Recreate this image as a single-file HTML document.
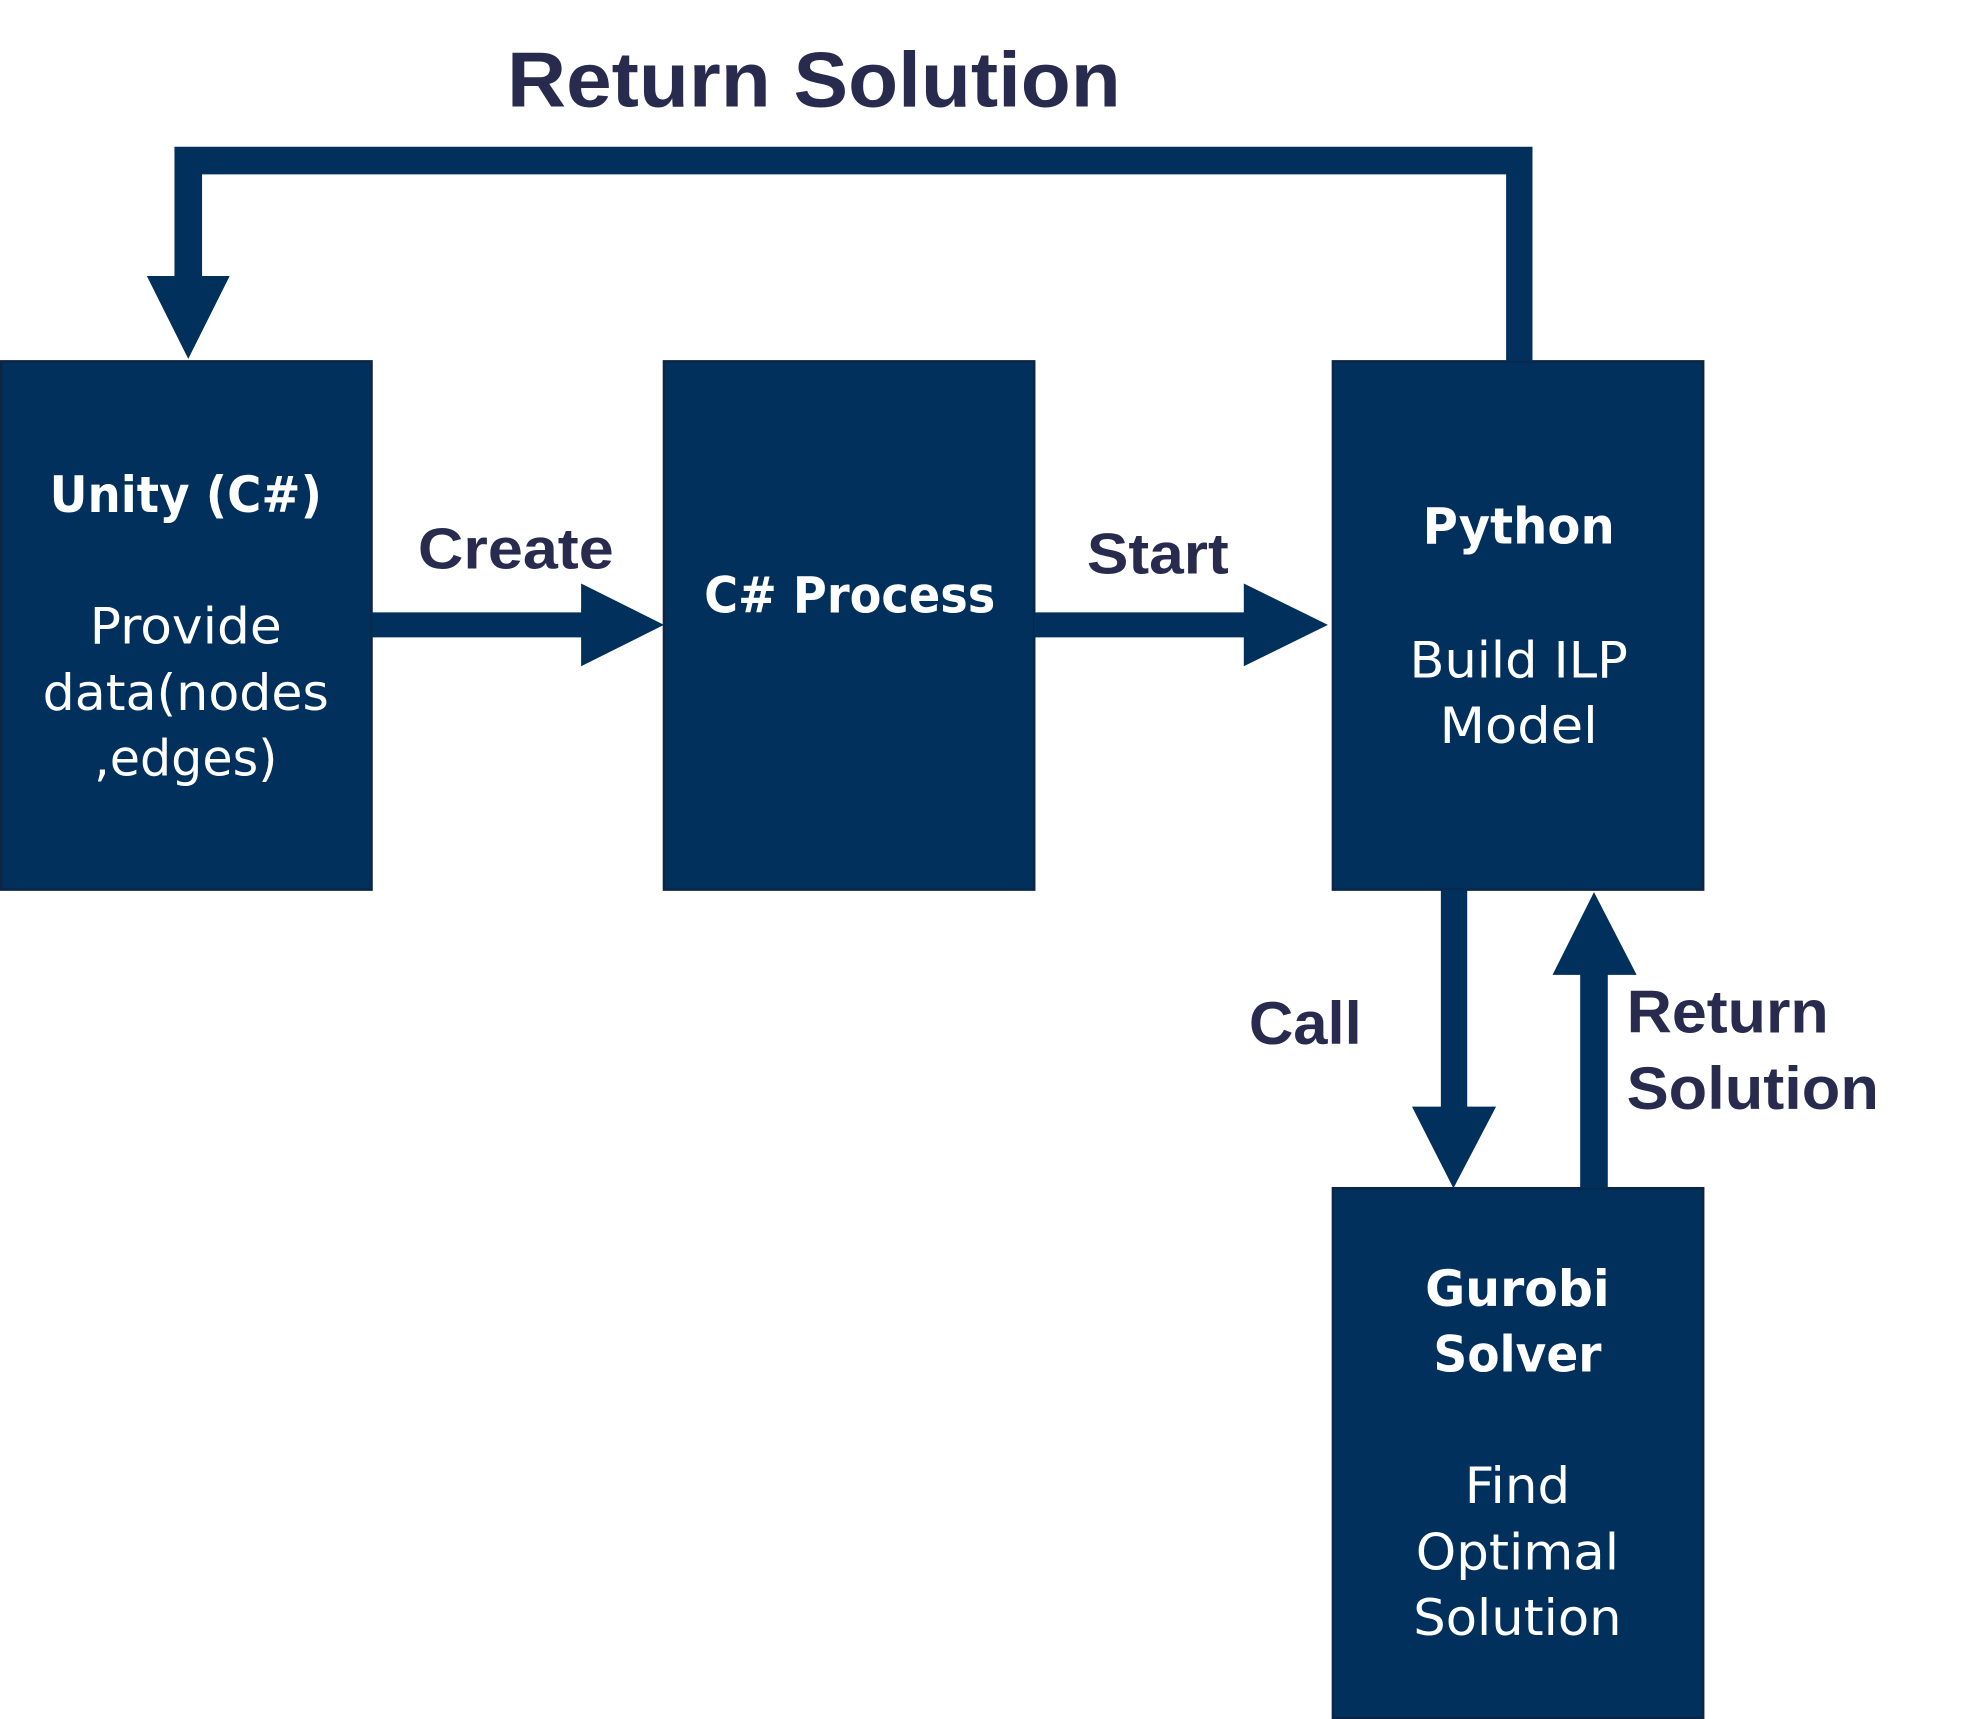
<!DOCTYPE html>
<html><head><meta charset="utf-8"><style>
html,body{margin:0;padding:0;background:#fff;}
svg{display:block;}
.lbl{font-family:"Liberation Sans",Arial,sans-serif;font-weight:bold;fill:#282b4d;}
.bt{font-family:"DejaVu Sans","Liberation Sans",sans-serif;fill:#fff;text-anchor:middle;}
.b{font-weight:bold;}
</style></head><body>
<svg width="1968" height="1719" viewBox="0 0 1568 1370" preserveAspectRatio="none" xmlns="http://www.w3.org/2000/svg">
<g fill="#01305c" stroke="#0d2545" stroke-width="2">
<rect x="1" y="288" width="295" height="421"/>
<rect x="529" y="288" width="295" height="421"/>
<rect x="1062" y="288" width="295" height="421"/>
<rect x="1062" y="947" width="295" height="422"/>
</g>
<g fill="#01305c">
<polygon points="1200,288 1200,139 161,139 161,220 183,220 150,286 117,220 139,220 139,117 1221,117 1221,288"/>
<polygon points="296,488 463,488 463,465 529,498 463,531 463,508 296,508"/>
<polygon points="824,488 991,488 991,465 1058,498 991,531 991,508 824,508"/>
<polygon points="1148,709 1169,709 1169,882 1192,882 1158,947 1125,882 1148,882"/>
<polygon points="1259,947 1259,777 1237,777 1270,711 1304,777 1281,777 1281,947"/>
</g>
<text class="lbl" x="404" y="85" font-size="62" textLength="489" lengthAdjust="spacingAndGlyphs">Return Solution</text>
<text class="lbl" x="333" y="453" font-size="46" textLength="156" lengthAdjust="spacingAndGlyphs">Create</text>
<text class="lbl" x="866" y="457" font-size="46" textLength="113" lengthAdjust="spacingAndGlyphs">Start</text>
<text class="lbl" x="995" y="832" font-size="48" textLength="90" lengthAdjust="spacingAndGlyphs">Call</text>
<text class="lbl" x="1296" y="823" font-size="48" textLength="161" lengthAdjust="spacingAndGlyphs">Return</text>
<text class="lbl" x="1296" y="884" font-size="48" textLength="201" lengthAdjust="spacingAndGlyphs">Solution</text>

<text class="bt b" x="148" y="408" font-size="40" textLength="217" lengthAdjust="spacingAndGlyphs">Unity (C#)</text>
<text class="bt" x="148" y="513" font-size="40" textLength="153" lengthAdjust="spacingAndGlyphs">Provide</text>
<text class="bt" x="148" y="566" font-size="40" textLength="228" lengthAdjust="spacingAndGlyphs">data(nodes</text>
<text class="bt" x="148" y="618" font-size="40" textLength="146" lengthAdjust="spacingAndGlyphs">,edges)</text>

<text class="bt b" x="677" y="488" font-size="40" textLength="232" lengthAdjust="spacingAndGlyphs">C# Process</text>

<text class="bt b" x="1210" y="433" font-size="40" textLength="153" lengthAdjust="spacingAndGlyphs">Python</text>
<text class="bt" x="1210" y="540" font-size="40" textLength="174" lengthAdjust="spacingAndGlyphs">Build ILP</text>
<text class="bt" x="1210" y="592" font-size="40" textLength="126" lengthAdjust="spacingAndGlyphs">Model</text>

<text class="bt b" x="1209" y="1041" font-size="40" textLength="147" lengthAdjust="spacingAndGlyphs">Gurobi</text>
<text class="bt b" x="1209" y="1093" font-size="40" textLength="134" lengthAdjust="spacingAndGlyphs">Solver</text>
<text class="bt" x="1209" y="1198" font-size="40" textLength="84" lengthAdjust="spacingAndGlyphs">Find</text>
<text class="bt" x="1209" y="1251" font-size="40" textLength="162" lengthAdjust="spacingAndGlyphs">Optimal</text>
<text class="bt" x="1209" y="1303" font-size="40" textLength="166" lengthAdjust="spacingAndGlyphs">Solution</text>
</svg>
</body></html>
